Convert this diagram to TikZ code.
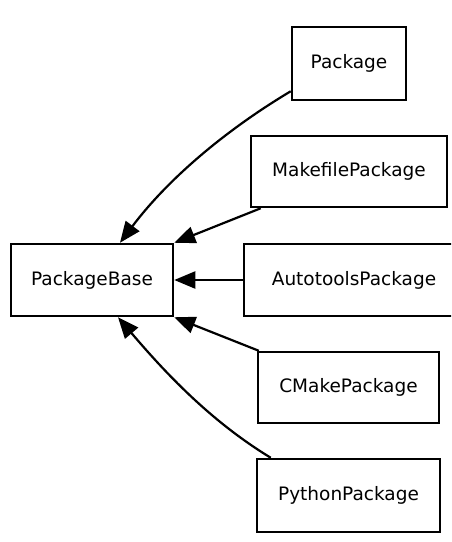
\documentclass[tikz,border=0pt]{standalone}
\usepackage{fontspec}
\setmainfont{DejaVu Sans}
\usetikzlibrary{arrows.meta}
\begin{document}
\begin{tikzpicture}[x=1pt,y=-1pt,
  box/.style={draw=black,line width=2.5pt,rectangle,inner sep=0pt,font=\fontsize{18.5}{22}\selectfont},
  arr/.style={line width=2.2pt,-{Triangle[length=21pt,width=17pt]}}]
\useasboundingbox[fill=white] (0,0) rectangle (451,542);
\clip (0,0) rectangle (451,542);
\node[box,minimum width=162pt,minimum height=72pt] (base) at (92,280) {PackageBase};
\node[box,minimum width=114pt,minimum height=73pt] (pkg) at (349,63.5) {Package};
\node[box,minimum width=196pt,minimum height=71pt] (make) at (349,171.5) {MakefilePackage};
\node[box,minimum width=220pt,minimum height=72pt] (auto) at (354,280) {AutotoolsPackage};
\node[box,minimum width=181pt,minimum height=71pt] (cmake) at (348.5,387.5) {CMakePackage};
\node[box,minimum width=183pt,minimum height=73pt] (python) at (348.5,495.5) {PythonPackage};
\draw[arr] ([shift={(0,-10)}]pkg.south west) .. controls +(-67,40) and +(47,-62.5) .. ([shift={(28,0)}]base.north);
\draw[arr] ([shift={(11,0)}]make.south west) -- (base.north east);
\draw[arr] (auto.west) -- (base.east);
\draw[arr] ([shift={(2,0)}]cmake.north west) -- (base.south east);
\draw[arr] ([shift={(15,0)}]python.north west) .. controls +(-61,-37) and +(46,54) .. ([shift={(26,0)}]base.south);
\end{tikzpicture}
\end{document}
